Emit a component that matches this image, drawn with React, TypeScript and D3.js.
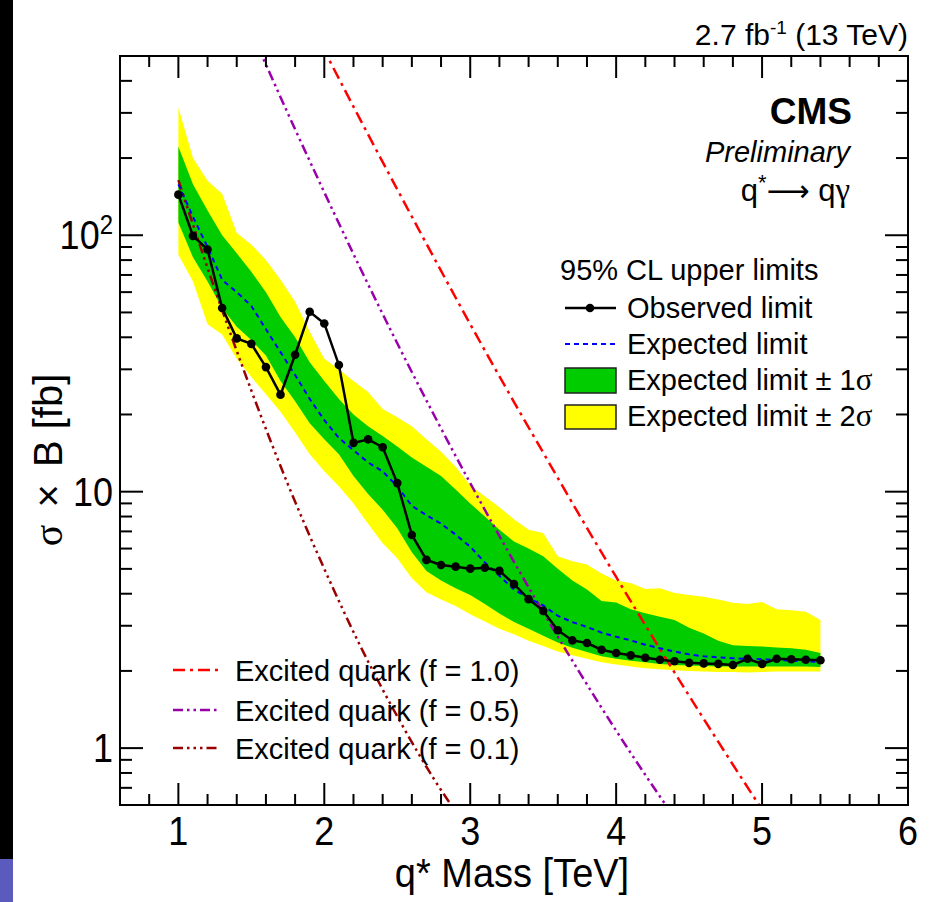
import React from 'react';
import * as d3 from 'd3';

// ---- data ----
const massPoints = [1.0,1.1,1.2,1.3,1.4,1.5,1.6,1.7,1.8,1.9,2.0,2.1,2.2,2.3,2.4,2.5,2.6,2.7,2.8,2.9,3.0,3.1,3.2,3.3,3.4,3.5,3.6,3.7,3.8,3.9,4.0,4.1,4.2,4.3,4.4,4.5,4.6,4.7,4.8,4.9,5.0,5.1,5.2,5.3,5.4];
const observed = [144,99.4,88,52,39.6,37.7,30.6,23.9,34.2,50.3,45.3,31.2,15.5,16.0,14.9,10.8,6.78,5.42,5.18,5.10,5.01,5.05,4.91,4.36,3.81,3.43,2.88,2.63,2.57,2.42,2.35,2.30,2.25,2.21,2.18,2.15,2.14,2.13,2.11,2.23,2.13,2.23,2.22,2.21,2.20];
const expected = [158,118,90,67,60,53,43,35,28.5,23,19,16.2,14.5,13,12,10.5,8.8,8.1,7.5,6.8,6.1,5.3,4.7,4.15,3.85,3.6,3.28,3.1,2.97,2.82,2.72,2.63,2.53,2.45,2.38,2.32,2.28,2.26,2.24,2.23,2.22,2.21,2.19,2.18,2.17];
const plus2 = [315,200,163,145,102,92,80,67,55,42,33,30,27,24.5,21,19.5,18,16,14.3,12.5,10.6,9.6,8.7,7.8,7.1,6.9,5.6,5.35,5.2,4.8,4.5,4.4,4.17,4.2,4.03,3.95,3.89,3.8,3.69,3.65,3.71,3.48,3.45,3.4,3.16];
const plus1 = [222,158,125,100,85,72,60,48,40,32,27,23,20,18,16.5,15,13.6,12.5,11.5,10.2,9.0,8.0,7.1,6.4,6.0,5.6,5.0,4.5,4.15,3.75,3.7,3.48,3.36,3.25,3.16,2.95,2.8,2.62,2.52,2.5,2.49,2.47,2.45,2.42,2.35];
const minus1 = [112,82,66,52,44,39,34,27,22.5,18.5,16,14,11.5,9.8,8.5,7.2,5.8,4.9,4.5,4.2,3.95,3.65,3.35,3.1,2.92,2.74,2.58,2.46,2.37,2.28,2.23,2.19,2.16,2.13,2.11,2.1,2.09,2.08,2.08,2.08,2.08,2.08,2.08,2.08,2.07];
const minus2 = [84,66,45,41,33,28,24,20.5,17,14,12,10.5,9.0,7.5,6.3,5.5,4.6,4.05,3.8,3.58,3.33,3.12,2.92,2.78,2.62,2.5,2.38,2.3,2.23,2.16,2.12,2.08,2.05,2.03,2.01,2.0,1.99,1.98,1.98,1.97,1.98,1.99,1.99,1.99,1.99];

const qstarMassF10 = [1.75,2.0,2.25,2.5,2.75,3.0,3.25,3.5,3.75,4.0,4.25,4.5,4.75,5.0,5.25];
const qstarXsecF10 = [1000,526,280,151,82,45,25.1,14.2,8.07,4.65,2.71,1.60,0.955,0.576,0.352];
const qstarMassF05 = [1.25,1.5,1.75,2.0,2.25,2.5,2.75,3.0,3.25,3.5,3.75,4.0,4.25,4.5];
const qstarXsecF05 = [1330,623,299,147,73.7,37.9,20.0,10.8,5.98,3.39,1.97,1.17,0.713,0.444];
const qstarMassF01 = [1.0,1.25,1.5,1.75,2.0,2.25,2.5,2.75,3.0];
const qstarXsecF01 = [164,61.6,24.8,10.7,5.0,2.48,1.33,0.76,0.47];

const xTickLabels = ['1','2','3','4','5','6'];
const xTickValues = [1,2,3,4,5,6];
const yTickValues = [1,10,100];

const legendBottom = ['Excited quark (f = 1.0)','Excited quark (f = 0.5)','Excited quark (f = 0.1)'];

// ---- layout ----
const W = 930, H = 902;
const L = 120, R = 908, T = 56, B = 805;
const FONT = '"Liberation Sans", Arial, Helvetica, sans-serif';
const SERIF = '"Liberation Serif", "DejaVu Serif", serif';

const GREEN = '#00cc00';
const YELLOW = '#ffff00';
const RED = '#ff0000';
const PURPLE = '#9900aa';
const DARKRED = '#990000';
const BLUE = '#0000ff';

export default function App() {
  const x = d3.scaleLinear().domain([0.6, 6]).range([L, R]);
  const y = d3.scaleLog().domain([0.6, 500]).range([B, T]);

  const band = (lo: number[], hi: number[]) =>
    d3.area<number>()
      .x((_, i) => x(massPoints[i]))
      .y0((_, i) => y(lo[i]))
      .y1((_, i) => y(hi[i]))(massPoints) || '';

  const line = (xs: number[], ys: number[], smooth = false) => {
    const g = d3.line<number>().x((_, i) => x(xs[i])).y((_, i) => y(ys[i]));
    if (smooth) g.curve(d3.curveMonotoneX);
    return g(xs) || '';
  };

  const xMinor: number[] = [];
  for (let k = 4; k < 30; k++) {
    const v = k * 0.2;
    if (Math.abs(v - Math.round(v)) > 1e-6) xMinor.push(v);
  }
  const yMinor: number[] = [];
  [0.1, 1, 10, 100].forEach(dec => {
    for (let k = 2; k <= 9; k++) {
      const v = k * dec;
      if (v > 0.6 && v < 500) yMinor.push(v);
    }
  });

  const majX = 22, minX = 11, majY = 23, minY = 12;
  const sy = 1.12;

  return (
    <svg width={W} height={H} viewBox={`0 0 ${W} ${H}`}
      style={{ position: 'absolute', left: 0, top: 0, background: '#fff' }}
      fontFamily={FONT}>
      <rect x={0} y={0} width={W} height={H} fill="#fff" />
      <rect x={0} y={0} width={13} height={859} fill="#000" />
      <rect x={0} y={859} width={13} height={43} fill="#5b5bbd" />

      <defs>
        <clipPath id="plotclip">
          <rect x={L} y={T} width={R - L} height={B - T} />
        </clipPath>
      </defs>

      <g clipPath="url(#plotclip)">
        <path d={band(minus2, plus2)} fill={YELLOW} />
        <path d={band(minus1, plus1)} fill={GREEN} />
        <path d={line(qstarMassF10, qstarXsecF10, true)} fill="none" stroke={RED} strokeWidth={2.5} strokeDasharray="12 5 3 5" />
        <path d={line(qstarMassF05, qstarXsecF05, true)} fill="none" stroke={PURPLE} strokeWidth={2.5} strokeDasharray="10 4 2.5 4 2.5 4" />
        <path d={line(qstarMassF01, qstarXsecF01, true)} fill="none" stroke={DARKRED} strokeWidth={2.5} strokeDasharray="10 4 2.5 4 2.5 4 2.5 4" />
        <path d={line(massPoints, expected)} fill="none" stroke={BLUE} strokeWidth={2} strokeDasharray="5 4" />
        <path d={line(massPoints, observed)} fill="none" stroke="#000" strokeWidth={2.5} />
        {massPoints.map((m, i) => (
          <circle key={i} cx={x(m)} cy={y(observed[i])} r={4.3} fill="#000" />
        ))}
      </g>

      <rect x={L} y={T} width={R - L} height={B - T} fill="none" stroke="#000" strokeWidth={2} />

      {xTickValues.map(v => (
        <g key={'xm' + v}>
          <line x1={x(v)} x2={x(v)} y1={B} y2={B - majX} stroke="#000" strokeWidth={2} />
          <line x1={x(v)} x2={x(v)} y1={T} y2={T + majX} stroke="#000" strokeWidth={2} />
        </g>
      ))}
      {xMinor.map(v => (
        <g key={'xn' + v}>
          <line x1={x(v)} x2={x(v)} y1={B} y2={B - minX} stroke="#000" strokeWidth={2} />
          <line x1={x(v)} x2={x(v)} y1={T} y2={T + minX} stroke="#000" strokeWidth={2} />
        </g>
      ))}
      {yTickValues.map(v => (
        <g key={'ym' + v}>
          <line x1={L} x2={L + majY} y1={y(v)} y2={y(v)} stroke="#000" strokeWidth={2} />
          <line x1={R} x2={R - majY} y1={y(v)} y2={y(v)} stroke="#000" strokeWidth={2} />
        </g>
      ))}
      {yMinor.map(v => (
        <g key={'yn' + v}>
          <line x1={L} x2={L + minY} y1={y(v)} y2={y(v)} stroke="#000" strokeWidth={2} />
          <line x1={R} x2={R - minY} y1={y(v)} y2={y(v)} stroke="#000" strokeWidth={2} />
        </g>
      ))}

      {xTickValues.map((v, i) => (
        <text key={'xl' + v} transform={`translate(${x(v)},845) scale(1,${sy})`} textAnchor="middle" fontSize={36}>{xTickLabels[i]}</text>
      ))}
      <text transform={`translate(113,${y(1) + 14}) scale(1,${sy})`} textAnchor="end" fontSize={36}>1</text>
      <text transform={`translate(113,${y(10) + 14}) scale(1,${sy})`} textAnchor="end" fontSize={36}>10</text>
      <text transform={`translate(113,${y(100) + 14}) scale(1,${sy})`} textAnchor="end" fontSize={36}>10<tspan dy={-14} fontSize={24}>2</tspan></text>

      <text transform={`translate(512,887) scale(1,1.08)`} textAnchor="middle" fontSize={38}>q* Mass [TeV]</text>
      <text transform="translate(62,460) rotate(-90)" textAnchor="middle" fontSize={40}>
        <tspan fontFamily={SERIF}>{'\u03c3'}</tspan><tspan dx={6}>{' \u00d7 '}</tspan><tspan dx={6}>{'B [fb]'}</tspan>
      </text>

      <text x={908} y={45} textAnchor="end" fontSize={30}>
        2.7 fb<tspan dy={-11} fontSize={19}>-1</tspan><tspan dy={11}> (13 TeV)</tspan>
      </text>
      <text x={852} y={124} textAnchor="end" fontSize={37} fontWeight="bold">CMS</text>
      <text x={850} y={162} textAnchor="end" fontSize={29} fontStyle="italic">Preliminary</text>
      <text x={850} y={201} textAnchor="end" fontSize={31}>
        q<tspan dy={-11} fontSize={22}>*</tspan><tspan dy={11} fontFamily='"DejaVu Sans", sans-serif' fontSize={30}>{'\u27f6'}</tspan>{' q'}<tspan fontFamily={SERIF} fontSize={33}>{'\u03b3'}</tspan>
      </text>

      <text x={560} y={280} fontSize={29}>95% CL upper limits</text>
      <line x1={565} x2={616} y1={308} y2={308} stroke="#000" strokeWidth={2.5} />
      <circle cx={590} cy={308} r={4.3} fill="#000" />
      <text x={627} y={318} fontSize={29}>Observed limit</text>
      <line x1={565} x2={616} y1={344} y2={344} stroke={BLUE} strokeWidth={2} strokeDasharray="5 4" />
      <text x={627} y={354} fontSize={29}>Expected limit</text>
      <rect x={565} y={368} width={51} height={25} fill={GREEN} stroke="#222" strokeWidth={1.5} />
      <text x={627} y={390} fontSize={29}>{'Expected limit \u00b1 1'}<tspan fontFamily={SERIF} fontSize={31}>{'\u03c3'}</tspan></text>
      <rect x={565} y={405} width={51} height={24} fill={YELLOW} stroke="#222" strokeWidth={1.5} />
      <text x={627} y={426} fontSize={29}>{'Expected limit \u00b1 2'}<tspan fontFamily={SERIF} fontSize={31}>{'\u03c3'}</tspan></text>

      <line x1={173} x2={220} y1={670} y2={670} stroke={RED} strokeWidth={2.5} strokeDasharray="12 5 3 5" />
      <text x={235} y={681} fontSize={29}>{legendBottom[0]}</text>
      <line x1={173} x2={220} y1={710} y2={710} stroke={PURPLE} strokeWidth={2.5} strokeDasharray="10 4 2.5 4 2.5 4" />
      <text x={235} y={721} fontSize={29}>{legendBottom[1]}</text>
      <line x1={173} x2={220} y1={748} y2={748} stroke={DARKRED} strokeWidth={2.5} strokeDasharray="10 4 2.5 4 2.5 4 2.5 4" />
      <text x={235} y={759} fontSize={29}>{legendBottom[2]}</text>
    </svg>
  );
}
